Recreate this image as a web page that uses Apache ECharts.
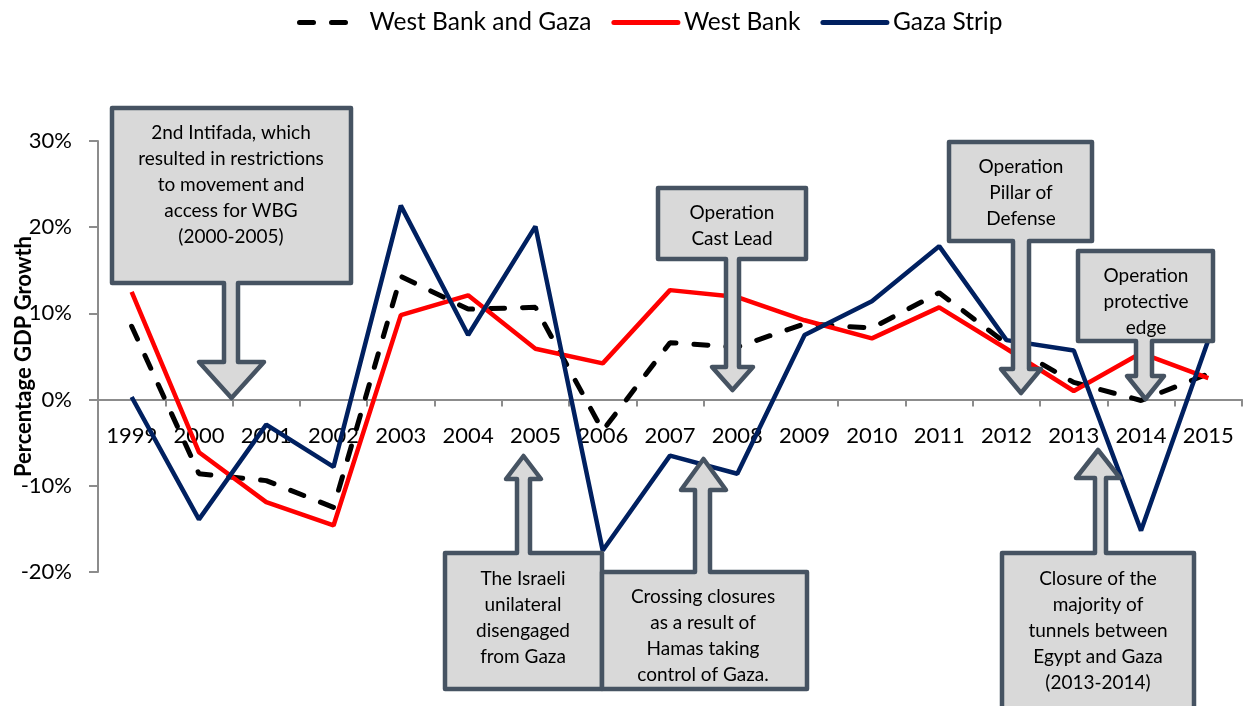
<!DOCTYPE html>
<html>
<head>
<meta charset="utf-8">
<script src="https://cdn.jsdelivr.net/npm/echarts@6/dist/echarts.min.js"></script>
<style>
  html, body { margin: 0; padding: 0; background: #fff; }
  #chart { width: 1244px; height: 706px; }
</style>
</head>
<body>
<div id="chart"></div>
<script>
// years on the x axis
var years = ['1999','2000','2001','2002','2003','2004','2005','2006','2007','2008','2009','2010','2011','2012','2013','2014','2015'];
// GDP growth, percent
var wbg  = [8.5, -8.6, -9.4, -12.5, 14.3, 10.5, 10.7, -3.6, 6.6, 6.1, 8.8, 8.3, 12.4, 6.5, 2.0, -0.1, 3.0];
var wb   = [12.5, -6.1, -11.9, -14.6, 9.8, 12.1, 5.9, 4.2, 12.7, 11.9, 9.2, 7.1, 10.7, 5.9, 1.0, 5.4, 2.5];
var gaza = [0.3, -13.9, -2.9, -7.8, 22.5, 7.5, 20.1, -17.5, -6.5, -8.6, 7.5, 11.4, 17.8, 6.9, 5.7, -15.2, 6.9];

var FONT = 'Lato, "Open Sans", sans-serif';
var BOX_FILL = '#D9D9D9';
var BOX_LINE = '#465362';

var GRID_TOP = 141, GRID_BOTTOM = 134, Y_MIN = -20, Y_MAX = 30;
var plotH = 706 - GRID_TOP - GRID_BOTTOM;
// move the category axis up to the 0% line
var zeroOffset = -plotH * (0 - Y_MIN) / (Y_MAX - Y_MIN);

// callout: box with a block arrow (down = arrow below box, up = arrow above box)
function callout(c) {
    var pts;
    var tipX = (c.headL + c.headR) / 2;
    if (c.dir === 'down') {
        pts = [[c.l, c.t], [c.r, c.t], [c.r, c.b], [c.sR, c.b], [c.sR, c.headY], [c.headR, c.headY],
               [tipX, c.tip], [c.headL, c.headY], [c.sL, c.headY], [c.sL, c.b], [c.l, c.b]];
    } else {
        pts = [[c.l, c.t], [c.sL, c.t], [c.sL, c.headY], [c.headL, c.headY], [tipX, c.tip],
               [c.headR, c.headY], [c.sR, c.headY], [c.sR, c.t], [c.r, c.t], [c.r, c.b], [c.l, c.b]];
    }
    var els = [{
        type: 'polygon',
        z: 100,
        shape: { points: pts },
        style: { fill: BOX_FILL, stroke: BOX_LINE, lineWidth: 4.5, lineJoin: 'round' }
    }];
    c.lines.forEach(function (txt, i) {
        els.push({
            type: 'text',
            z: 101,
            x: c.cx,
            y: c.y0 + i * 26,
            style: {
                text: txt, fill: '#000', font: '19px ' + FONT,
                align: 'center', verticalAlign: 'middle'
            }
        });
    });
    return els;
}

var callouts = [
    { dir: 'down', l: 112, t: 108, r: 351, b: 283, sL: 224, sR: 238, headL: 199, headR: 264, headY: 362, tip: 398,
      cx: 231, y0: 133, lines: ['2nd Intifada, which', 'resulted in restrictions', 'to movement and', 'access for WBG', '(2000-2005)'] },
    { dir: 'down', l: 658, t: 188, r: 806, b: 259, sL: 726, sR: 739, headL: 712, headR: 753, headY: 367, tip: 390,
      cx: 732, y0: 213, lines: ['Operation', 'Cast Lead'] },
    { dir: 'down', l: 949, t: 142, r: 1092, b: 241, sL: 1013, sR: 1029, headL: 1001, headR: 1041, headY: 369, tip: 393,
      cx: 1021, y0: 167, lines: ['Operation', 'Pillar of', 'Defense'] },
    { dir: 'down', l: 1078, t: 251, r: 1213, b: 341, sL: 1136, sR: 1152, headL: 1127, headR: 1164, headY: 376, tip: 399,
      cx: 1146, y0: 276, lines: ['Operation', 'protective', 'edge'] },
    { dir: 'up', l: 445, t: 553, r: 602, b: 689, sL: 517, sR: 530, headL: 506, headR: 541, headY: 479, tip: 456,
      cx: 523, y0: 579, lines: ['The Israeli', 'unilateral', 'disengaged', 'from Gaza'] },
    { dir: 'up', l: 602, t: 572, r: 807, b: 689, sL: 695, sR: 710, headL: 681, headR: 726, headY: 490, tip: 459,
      cx: 703, y0: 597, lines: ['Crossing closures', 'as a result of', 'Hamas taking', 'control of Gaza.'] },
    { dir: 'up', l: 1002, t: 553, r: 1194, b: 714, sL: 1095, sR: 1106, headL: 1076, headR: 1120, headY: 478, tip: 450,
      cx: 1098, y0: 579, lines: ['Closure of the', 'majority of', 'tunnels between', 'Egypt and Gaza', '(2013-2014)'] }
];

var graphics = [];
callouts.forEach(function (c) { graphics = graphics.concat(callout(c)); });

var chart = echarts.init(document.getElementById('chart'));
var option = {
    backgroundColor: '#fff',
    animation: false,
    textStyle: { fontFamily: FONT },
    legend: {
        top: 5,
        left: 292,
        itemWidth: 64,
        itemHeight: 14,
        itemGap: 20,
        itemStyle: { opacity: 0 },
        lineStyle: { width: 5, cap: 'round' },
        textStyle: { fontSize: 24.5, color: '#000', fontFamily: FONT, padding: [0, 0, 0, 1] },
        data: ['West Bank and Gaza', 'West Bank', 'Gaza Strip']
    },
    grid: { left: 98, right: 2, top: GRID_TOP, bottom: GRID_BOTTOM, outerBoundsMode: 'none', containLabel: false },
    xAxis: {
        type: 'category',
        data: years,
        boundaryGap: true,
        offset: zeroOffset,
        axisLine: { onZero: false, lineStyle: { color: '#8c8c8c', width: 2 } },
        axisTick: { show: true, length: 7, interval: 0, lineStyle: { color: '#8c8c8c', width: 2 } },
        axisLabel: { interval: 0, margin: 25, fontSize: 22, color: '#000', fontFamily: FONT }
    },
    yAxis: {
        type: 'value',
        min: Y_MIN,
        max: Y_MAX,
        interval: 10,
        name: 'Percentage GDP Growth',
        nameLocation: 'middle',
        nameGap: 63,
        nameMoveOverlap: false,
        nameTextStyle: { fontSize: 22, fontWeight: 'bold', color: '#000', fontFamily: FONT },
        axisLine: { show: true, onZero: false, lineStyle: { color: '#8c8c8c', width: 2 } },
        axisTick: { show: true, length: 9, lineStyle: { color: '#8c8c8c', width: 2 } },
        axisLabel: { formatter: '{value}%', margin: 26, fontSize: 22, color: '#000', fontFamily: FONT },
        splitLine: { show: false }
    },
    series: [
        {
            name: 'West Bank and Gaza', type: 'line', data: wbg, symbol: 'none',
            itemStyle: { color: '#000' },
            lineStyle: { color: '#000', width: 5, type: [14, 18], cap: 'round' }
        },
        {
            name: 'West Bank', type: 'line', data: wb, symbol: 'none',
            itemStyle: { color: '#FF0000' },
            lineStyle: { color: '#FF0000', width: 4.5 }
        },
        {
            name: 'Gaza Strip', type: 'line', data: gaza, symbol: 'none',
            itemStyle: { color: '#002060' },
            lineStyle: { color: '#002060', width: 4.5 }
        }
    ],
    graphic: graphics
};
chart.setOption(option);
</script>
</body>
</html>
